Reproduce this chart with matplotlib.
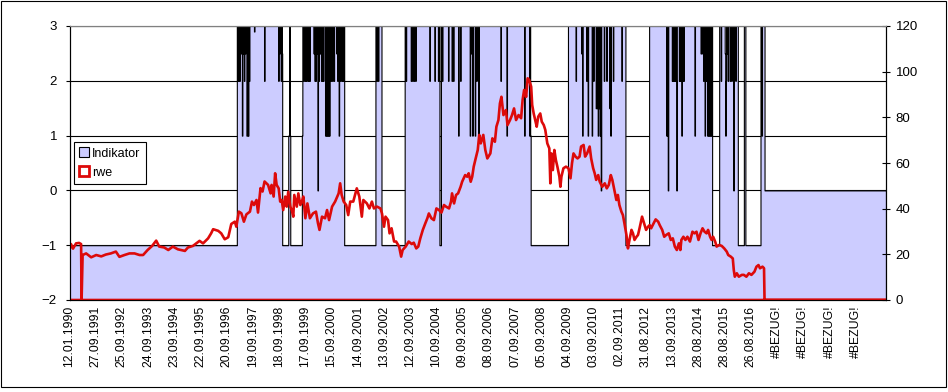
import numpy as np
import matplotlib
matplotlib.use("Agg")
import matplotlib.pyplot as plt
from matplotlib.patches import Patch, Rectangle

plt.rcParams['font.family'] = ['Liberation Sans', 'DejaVu Sans']

# weekly category axis, one label every 52 weeks
n_weeks = 1621
x_labels = ['12.01.1990', '27.09.1991', '25.09.1992', '24.09.1993', '23.09.1994',
            '22.09.1995', '20.09.1996', '19.09.1997', '18.09.1998', '17.09.1999',
            '15.09.2000', '14.09.2001', '13.09.2002', '12.09.2003', '10.09.2004',
            '09.09.2005', '08.09.2006', '07.09.2007', '05.09.2008', '04.09.2009',
            '03.09.2010', '02.09.2011', '31.08.2012', '13.09.2013', '28.08.2014',
            '28.08.2015', '26.08.2016', '#BEZUG!', '#BEZUG!', '#BEZUG!', '#BEZUG!']

# Indikator: runs (start week, level)
ind_run_start = [0, 332, 422, 434, 436, 437, 438, 461, 462, 545, 607, 619, 665,
                 734, 737, 915, 989, 1103, 1150, 1275, 1289, 1326, 1338, 1341, 1371, 1379]
ind_run_level = [-1, 3, -1, 1, 3, 1, -1, 1, 3, -1, 3, -1, 3,
                 -1, 3, -1, 3, -1, 3, -1, 3, -1, 3, -1, 3, 0]

# Indikator: one-week dips (week, level)
spike_week = [333, 335, 337, 340, 342, 344, 346, 348, 351, 352, 354, 356, 366, 386,
              414, 416, 419, 421,
              464, 467, 469, 472, 474, 476, 484, 486, 488, 490, 492, 494, 496, 498, 499,
              501, 503, 507, 509, 511, 513, 515, 518, 521, 524, 529, 531, 534, 537, 540, 542,
              609, 612,
              667, 677, 680, 683, 686, 714, 724, 731, 739, 751, 758, 761, 771, 775, 794,
              796, 799, 804, 807, 811, 855, 867, 902, 912, 914,
              1004, 1015, 1017, 1025, 1028, 1036, 1039, 1044, 1046, 1048, 1050, 1052, 1054,
              1060, 1065, 1071, 1073, 1078, 1095,
              1184, 1186, 1187, 1195, 1197, 1199, 1201, 1203, 1204, 1209, 1211, 1214, 1216,
              1218, 1240, 1252, 1254, 1257, 1260, 1262, 1265, 1267, 1269, 1271, 1273,
              1292, 1300, 1301, 1302, 1304, 1306, 1310, 1313, 1317, 1321,
              1373]
spike_level = [2, 2, 2, 2.5, 1, 2.5, 2, 2.5, 1, 1, 1, 2, 2.9, 2,
               2, 2.5, 2, 2.5,
               2, 2, 2, 2, 2, 2, 2.5, 2, 2, 2.5, 0, 2, 2.5, 2.5, 2,
               2, 2, 1, 1, 1, 1, 1, 2, 2, 2, 2.5, 2, 1, 2, 2, 2,
               2, 2,
               2, 2, 2, 2, 2, 2, 2, 2, 2, 2, 2, 2, 1, 2, 1,
               2.5, 1, 1, 2, 1, 2, 1, 1, 1, 1,
               2, 2.5, 1, 2, 1, 1, 2, 1.5, 1.5, 1, 1.5, 1, 0,
               2, 2, 1.5, 1, 2, 2,
               1, 1, 0, 2, 2, 2, 2, 2, 0, 2, 2, 1, 2,
               2, 1, 2.5, 2.5, 2, 1, 2, 1, 1, 1, 1, 1,
               2, 2.5, 1, 2, 2.5, 2, 2, 2, 0, 2,
               1]

# rwe share price (right axis)
rwe_week = [0, 3, 7, 13, 19, 23, 24, 26, 33, 43, 53, 63, 72, 82, 92, 99, 109, 119, 129,
            139, 146, 155, 164, 172, 178, 188, 196, 205, 215, 229, 235, 245, 258, 265,
            275, 281, 285, 295, 301, 308, 315, 321, 328, 331, 336, 341, 346, 351, 358,
            362, 366, 371, 374, 379, 383, 387, 394, 399,
            401, 405, 408, 411, 415, 418, 421, 424, 428, 431, 434, 438, 441, 444, 446,
            451, 454, 458, 461, 464, 468, 472, 477, 483, 489, 493, 496, 501, 507, 511,
            515, 521, 527, 534, 537, 540, 544, 549, 553, 557, 563, 570, 575, 580, 583,
            590, 595, 600, 604,
            610, 617, 620, 624, 627, 632, 635, 639, 644, 648, 654, 658, 661, 667, 673,
            679, 683, 688, 692, 696, 701, 706, 710, 713, 718, 723, 728, 733, 738, 743,
            747, 753, 757, 759, 763, 767, 771, 776, 779, 785, 789, 792, 796, 799, 802, 806,
            810, 813, 816, 821, 825, 829, 835, 839, 844, 847, 851, 854, 857, 861, 866,
            869, 874, 878, 882, 886, 891, 896, 899, 902, 906, 909, 912, 916, 918, 921,
            924, 927, 930, 934, 937, 941, 944, 948, 952, 954, 956, 959, 962, 965, 968,
            972, 974, 976, 980, 985, 990, 994, 997, 1000, 1004, 1008,
            1012, 1015, 1020, 1023, 1027, 1032, 1035, 1039, 1042, 1045, 1049, 1052, 1057,
            1062, 1066, 1070, 1074, 1077, 1081, 1085, 1088, 1091, 1095, 1098, 1101, 1105,
            1108, 1111, 1115, 1118, 1121, 1125, 1128, 1131, 1136, 1140, 1144, 1148, 1151,
            1154, 1159, 1163, 1168, 1171, 1176, 1180, 1184, 1189, 1193, 1197, 1201, 1205,
            1209, 1212,
            1214, 1218, 1222, 1226, 1231, 1236, 1240, 1244, 1248, 1252, 1256, 1260, 1264,
            1267, 1271, 1274, 1277, 1281, 1284, 1289, 1294, 1299, 1304, 1307, 1312, 1316,
            1318, 1320, 1324, 1328, 1334, 1338, 1343, 1348, 1353, 1359, 1363, 1367, 1370,
            1375, 1378, 1379, 1620]
rwe_value = [21.9, 24.5, 22.5, 24.8, 25.0, 24.5, 0, 19.7, 20.4, 18.7, 19.7, 19.1, 19.9,
             20.4, 21.2, 18.9, 19.7, 20.4, 20.4, 19.7, 19.7, 21.9, 23.7, 26.0, 23.4, 23.0,
             21.9, 23.4, 22.2, 21.5, 23.0, 23.7, 25.9, 24.8, 27.0, 29.2, 31.0, 30.3, 29.2,
             26.6, 27.5, 33.3, 34.3, 32.1, 38.7, 38.0, 34.3, 37.5, 38.7, 43.1, 41.6, 43.8,
             38.3, 49.0, 47.5, 51.9, 50.4, 46.7,
             50.4, 45.3, 55.5, 50.4, 48.9, 43.1, 43.8, 39.4, 45.3, 40.9, 47.4, 40.9, 39.4,
             36.5, 46.0, 40.9, 46.7, 41.6, 43.1, 45.3, 35.8, 42.3, 35.8, 37.9, 38.7, 33.6,
             30.7, 36.5, 35.8, 39.4, 35.0, 40.9, 43.1, 46.7, 51.1, 46.0, 43.1, 41.6, 37.2,
             43.1, 43.1, 48.9, 45.3, 36.5, 43.8, 42.3, 40.1, 43.1, 40.1,
             40.9, 40.1, 37.9, 32.1, 36.5, 35.0, 29.2, 31.4, 25.6, 25.6, 23.4, 19.0, 21.9,
             23.4, 25.6, 24.5, 25.1, 22.6, 23.4, 27.0, 30.7, 33.6, 35.8, 37.9, 35.8, 35.0,
             40.1, 39.4, 38.3, 41.6, 40.9, 40.1, 43.1, 46.7, 42.3, 46.0, 46.7, 49.6, 51.8,
             54.7, 54.0, 55.5, 51.8, 54.0, 58.4, 62.1,
             65.7, 72.3, 68.6, 72.3, 65.7, 62.0, 64.2, 70.8, 69.3, 75.9, 78.8, 86.1, 89.0,
             81.0, 83.2, 76.6, 78.8, 81.0, 83.9, 78.8, 81.0, 79.6, 87.6, 92.0, 89.0, 97.1,
             96.4, 93.4, 85.4, 81.7, 78.8, 75.9, 80.3, 81.7, 78.1, 76.6, 74.5, 68.6, 66.4,
             51.1, 64.2, 56.9, 65.7, 61.3, 58.4, 54.0, 49.6, 54.0, 57.7, 58.4, 57.7, 53.3,
             59.9, 64.2, 62.8, 62.0,
             62.8, 67.2, 67.9, 62.8, 64.2, 67.2, 62.0, 57.7, 55.5, 52.6, 54.7, 51.8, 49.6,
             51.1, 48.9, 50.4, 54.7, 52.6, 48.2, 43.8, 46.0, 41.6, 38.7, 37.2, 33.6, 28.5,
             22.6, 26.3, 30.7, 29.2, 26.3, 27.7, 28.5, 31.4, 36.5, 33.6, 30.7, 32.1, 32.8,
             31.4, 33.6, 35.3, 34.3, 32.8, 30.7, 27.7, 28.5, 29.2, 26.3, 27.0, 23.4, 21.9,
             24.8, 21.9,
             26.3, 27.7, 26.3, 27.7, 25.6, 29.9, 29.2, 29.9, 26.3, 29.2, 31.4, 29.9, 29.2,
             30.7, 27.7, 26.3, 27.7, 25.6, 23.4, 24.1, 23.7, 22.6, 21.2, 19.7, 19.0, 18.2,
             13.1, 10.2, 11.7, 10.2, 11.0, 11.0, 10.2, 11.7, 11.0, 12.4, 14.6, 15.3, 13.9,
             14.6, 13.9, 0, 0]

lavender = '#ccccff'
red = '#dd0a0a'

weeks = np.arange(n_weeks)
ind = np.zeros(n_weeks)
run_end = ind_run_start[1:] + [n_weeks]
for s, e, lvl in zip(ind_run_start, run_end, ind_run_level):
    ind[s:e] = lvl
for w, lvl in zip(spike_week, spike_level):
    ind[w] = lvl

fig = plt.figure(figsize=(9.48, 3.92), dpi=100)
ax = fig.add_axes([69.5 / 948, 1 - 300 / 392, 816.5 / 948, 274 / 392])
ax2 = ax.twinx()

ax.set_axisbelow(True)
ax.grid(axis='y', color='black', lw=0.8)
ax.fill_between(weeks, -2, ind, step='post', facecolor=lavender,
                edgecolor='black', lw=0.8)
ax.set_ylim(-2, 3)
ax.set_yticks([-2, -1, 0, 1, 2, 3])
ax.set_xlim(0, n_weeks - 1)
ax.set_xticks(np.arange(len(x_labels)) * 52)
ax.set_xticklabels(x_labels, rotation=90, fontsize=8.8)
ax.tick_params(axis='x', length=0, pad=4)
ax.tick_params(axis='y', direction='out', length=3, width=0.8, labelsize=9.5, pad=6)
ax.spines['top'].set_color('#808080')
for s in ['left', 'right', 'bottom']:
    ax.spines[s].set_color('black')

ax2.fill_between(rwe_week, 0, rwe_value, facecolor='none', edgecolor=red, lw=1.9)
ax2.set_ylim(0, 120)
ax2.set_yticks(range(0, 121, 20))
ax2.tick_params(axis='y', direction='inout', length=6, width=0.8, labelsize=9.5, pad=4)
ax2.spines['top'].set_color('#808080')
ax2.spines['left'].set_color('black')
ax2.spines['right'].set_color('black')

handles = [Patch(facecolor=lavender, edgecolor='black', lw=0.8, label='Indikator'),
           Patch(facecolor='white', edgecolor=red, lw=2, label='rwe')]
leg = ax2.legend(handles=handles, loc='upper left',
                 bbox_to_anchor=(73.5 / 948, 1 - 142.5 / 392), bbox_transform=fig.transFigure,
                 borderaxespad=0, fancybox=False, framealpha=1, edgecolor='black',
                 fontsize=9, handlelength=0.8, handleheight=0.8, handletextpad=0.3,
                 borderpad=0.4, labelspacing=0.55)
leg.get_frame().set_linewidth(0.8)

fig.patches.append(Rectangle((0.5 / 948, 1 - 386.5 / 392), 945.5 / 948, 386 / 392,
                             transform=fig.transFigure, fill=False,
                             edgecolor='black', lw=0.8))

fig.savefig('out.png', dpi=100)
